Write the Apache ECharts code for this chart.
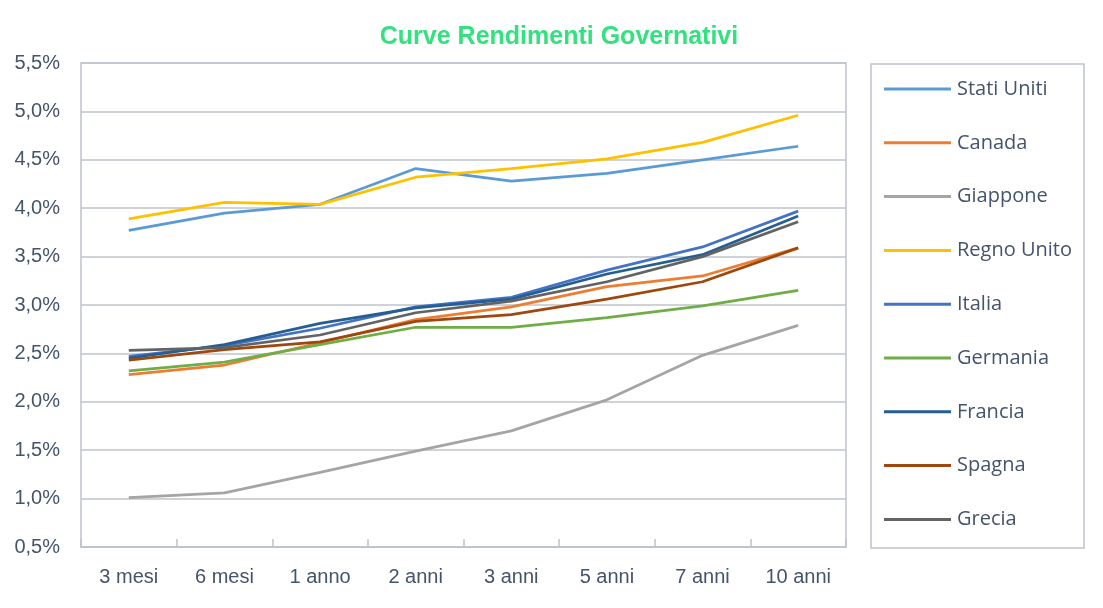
<!DOCTYPE html>
<html>
<head>
<meta charset="utf-8">
<script src="https://cdn.jsdelivr.net/npm/echarts@6/dist/echarts.min.js"></script>
<style>html,body{margin:0;padding:0;background:#fff}#c{width:1103px;height:608px}</style>
</head>
<body>
<div id="c"></div>
<script>
var categories = ['3 mesi','6 mesi','1 anno','2 anni','3 anni','5 anni','7 anni','10 anni'];
var statiUniti = [3.77, 3.95, 4.04, 4.41, 4.28, 4.36, 4.50, 4.64];
var canada     = [2.28, 2.38, 2.61, 2.85, 2.98, 3.19, 3.30, 3.59];
var giappone   = [1.01, 1.06, 1.27, 1.49, 1.70, 2.02, 2.48, 2.79];
var regnoUnito = [3.89, 4.06, 4.04, 4.32, 4.41, 4.51, 4.68, 4.96];
var italia     = [2.47, 2.58, 2.76, 2.98, 3.08, 3.36, 3.60, 3.97];
var germania   = [2.32, 2.41, 2.59, 2.77, 2.77, 2.87, 2.99, 3.15];
var francia    = [2.45, 2.59, 2.81, 2.97, 3.06, 3.32, 3.52, 3.92];
var spagna     = [2.43, 2.54, 2.62, 2.83, 2.90, 3.06, 3.24, 3.59];
var grecia     = [2.53, 2.56, 2.69, 2.92, 3.04, 3.24, 3.50, 3.86];

var seriesNames = ['Stati Uniti','Canada','Giappone','Regno Unito','Italia','Germania','Francia','Spagna','Grecia'];
var seriesData = [statiUniti, canada, giappone, regnoUnito, italia, germania, francia, spagna, grecia];
var colors = ['#5B9BD5','#ED7D31','#A5A5A5','#FFC000','#4472C4','#70AD47','#255E91','#9E480E','#636363'];

var textColor = '#44546A';
var gridColor = '#BFC4CB';

var chart = echarts.init(document.getElementById('c'));
chart.setOption({
  animation: false,
  backgroundColor: '#fff',
  title: {
    text: 'Curve Rendimenti Governativi',
    left: 554, top: 20, textAlign: 'center',
    textStyle: { color: '#33E17F', fontSize: 25, fontWeight: 'bold', fontFamily: '"Liberation Sans", Arimo, sans-serif' }
  },
  graphic: [{
    type: 'rect', shape: { x: 871, y: 64, width: 213, height: 484 },
    style: { fill: 'none', stroke: gridColor, lineWidth: 1.5 }, z: 0
  }],
  legend: {
    orient: 'vertical', left: 884, top: 79, padding: 0,
    icon: 'rect',
    itemWidth: 67, itemHeight: 3, itemGap: 33.8,
    data: seriesNames,
    textStyle: { color: textColor, fontSize: 20, lineHeight: 20, fontFamily: '"Open Sans", "Noto Sans", sans-serif', padding: [0,0,0,1] }
  },
  grid: { left: 81, right: 257, top: 63, bottom: 61, show: true, borderColor: gridColor, borderWidth: 1.5 },
  xAxis: {
    type: 'category', data: categories, boundaryGap: true,
    axisLine: { lineStyle: { color: gridColor, width: 1.5 } },
    axisTick: { show: true, inside: true, length: 8, lineStyle: { color: gridColor, width: 1.5 } },
    axisLabel: { color: textColor, fontSize: 20, margin: 20, fontFamily: '"Liberation Sans Narrow", sans-serif' }
  },
  yAxis: {
    type: 'value', min: 0.5, max: 5.5, interval: 0.5,
    axisLine: { show: false }, axisTick: { show: false },
    splitLine: { lineStyle: { color: gridColor, width: 1.5 } },
    axisLabel: {
      color: textColor, fontSize: 20, margin: 21, fontFamily: '"Liberation Sans", Arimo, sans-serif',
      formatter: function (v) { return v.toFixed(1).replace('.', ',') + '%'; }
    }
  },
  series: seriesNames.map(function (n, i) {
    return {
      name: n, type: 'line', data: seriesData[i], symbol: 'none',
      color: colors[i],
      lineStyle: { color: colors[i], width: 2.75 }
    };
  })
});
</script>
</body>
</html>
